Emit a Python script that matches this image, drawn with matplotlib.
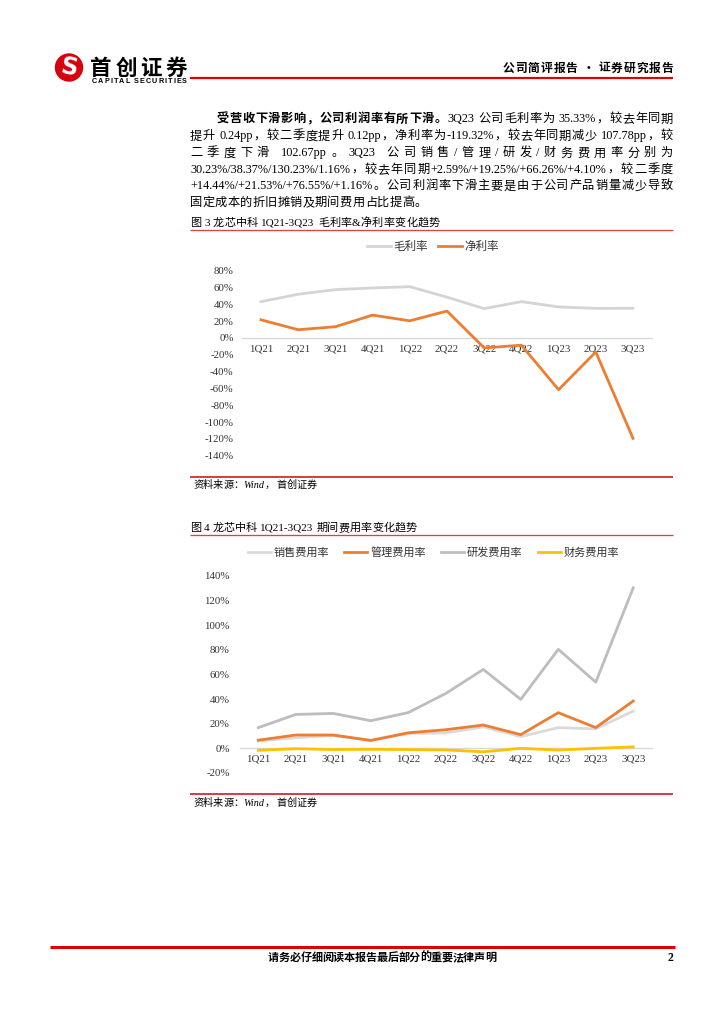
import matplotlib
matplotlib.use('Agg')
import matplotlib.pyplot as plt
from matplotlib.patches import Circle
from matplotlib.lines import Line2D
from matplotlib.ticker import FuncFormatter
from matplotlib.font_manager import FontProperties

plt.rcParams['axes.unicode_minus'] = False

# ---------------- data ----------------
quarters = ['1Q21', '2Q21', '3Q21', '4Q21', '1Q22', '2Q22', '3Q22', '4Q22', '1Q23', '2Q23', '3Q23']
gross_margin = [43.2, 52.0, 57.5, 59.5, 61.0, 48.5, 34.9, 43.2, 36.9, 35.21, 35.33]
net_margin = [21.6, 9.8, 13.4, 27.2, 20.4, 32.0, -11.8, -8.6, -61.5, -16.65, -119.32]
margin_yticks = list(range(-140, 81, 20))

sales_rate = [6.0, 8.6, 10.4, 6.4, 12.0, 12.5, 17.4, 9.5, 16.8, 15.79, 30.23]
admin_rate = [6.6, 10.8, 10.8, 6.4, 12.6, 15.1, 18.9, 11.1, 28.9, 16.84, 38.37]
rd_rate = [16.8, 27.5, 28.3, 22.4, 29.0, 44.5, 64.0, 39.7, 80.3, 53.68, 130.23]
fin_rate = [-1.6, -0.3, -1.0, -0.8, -1.0, -1.3, -2.8, 0.0, -1.4, 0.0, 1.16]
expense_yticks = list(range(-20, 141, 20))

# ---------------- page setup ----------------
W, H = 724, 1024
fig = plt.figure(figsize=(7.24, 10.24), dpi=100)
page = fig.add_axes([0, 0, 1, 1])
page.set_xlim(0, W)
page.set_ylim(H, 0)
page.axis('off')
renderer = fig.canvas.get_renderer()

SERIF_CJK = ['Liberation Serif', 'Noto Sans CJK SC']
CJK = ['Noto Sans CJK SC', 'DejaVu Sans']


def tokenize(s, split_all=False):
    toks, run = [], ''
    for ch in s:
        if ch == ' ':
            if run:
                toks.append(run)
                run = ''
            toks.append(' ')
        elif split_all or ord(ch) >= 0x2E80 or ch == '·':
            if run:
                toks.append(run)
                run = ''
            toks.append(ch)
        else:
            run += ch
    if run:
        toks.append(run)
    return toks


def justify(segments, x0, x1, yc, size, family, color='black', style='normal', split_all=False):
    em = size * 100 / 72.0
    yb = yc + 0.36 * em
    items = []
    for text, weight in segments:
        for t in tokenize(text, split_all):
            items.append((t, weight))
    texts, widths = [], []
    for t, w in items:
        if t == ' ':
            texts.append(None)
            widths.append(0.25 * em)
        else:
            tx = page.text(0, yb, t, fontsize=size, family=family, weight=w, style=style,
                           color=color, va='baseline', ha='left')
            widths.append(tx.get_window_extent(renderer).width)
            texts.append(tx)
    n = len(items)
    gap = 0
    if x1 is not None and n > 1:
        gap = (x1 - x0 - sum(widths)) / (n - 1)
    x = x0
    for tx, wd in zip(texts, widths):
        if tx is not None:
            tx.set_x(x)
        x += wd + gap


def hline(x0, x1, y, lw_px, color):
    page.add_line(Line2D([x0, x1], [y, y], lw=lw_px * 0.72, color=color, solid_capstyle='butt'))


# ---------------- header ----------------
page.add_patch(Circle((69, 67.5), 13.5, color='#D7000F'))
page.text(69, 68, 'S', fontsize=17, family='DejaVu Sans', weight='bold', color='white',
          ha='center', va='center', rotation=-10)
justify([('首创证券', 'bold')], 90, 187, 67, 15.5, CJK)
justify([('CAPITAL SECURITIES', 'bold')], 92, 187, 80.5, 5.2, ['Liberation Sans'], split_all=True)
hline(190, 673, 77.5, 2.2, '#E00000')
justify([('公司简评报告 · 证券研究报告', 'bold')], 503, 673, 67.5, 8.5, CJK)

# ---------------- body text ----------------
FS = 8.8
justify([('受营收下滑影响，公司利润率有所下滑。', 'bold'), ('3Q23 公司毛利率为 35.33%，较去年同期', 'normal')],
        216.7, 673, 118, FS, SERIF_CJK)
justify([('提升 0.24pp，较二季度提升 0.12pp，净利率为-119.32%，较去年同期减少 107.78pp，较', 'normal')],
        190, 673, 135, FS, SERIF_CJK)
justify([('二季度下滑 102.67pp。3Q23 公司销售/管理/研发/财务费用率分别为', 'normal')],
        190, 673, 152, FS, SERIF_CJK)
justify([('30.23%/38.37%/130.23%/1.16%，较去年同期+2.59%/+19.25%/+66.26%/+4.10%，较二季度', 'normal')],
        190, 673, 168.5, FS, SERIF_CJK)
justify([('+14.44%/+21.53%/+76.55%/+1.16%。公司利润率下滑主要是由于公司产品销量减少导致', 'normal')],
        190, 673, 185, FS, SERIF_CJK)
justify([('固定成本的折旧摊销及期间费用占比提高。', 'normal')],
        190, 427, 201.5, FS, SERIF_CJK)

# ---------------- figure 3 captions ----------------
justify([('图 3 龙芯中科 1Q21-3Q23 毛利率&净利率变化趋势', 'normal')], 190, 440, 221.7, 8, SERIF_CJK)
hline(190, 673, 230, 1.3, '#E04040')
hline(190, 673, 476.7, 1.5, '#D00000')
justify([('资料来源：Wind， 首创证券', 'normal')], 193, 317, 484.5, 7.3, SERIF_CJK, style='italic')

# ---------------- figure 4 captions ----------------
justify([('图 4 龙芯中科 1Q21-3Q23 期间费用率变化趋势', 'normal')], 190, 416.7, 527, 8, SERIF_CJK)
hline(190, 673, 535, 1.3, '#E04040')
hline(190, 673, 794.3, 1.5, '#D00000')
justify([('资料来源：Wind， 首创证券', 'normal')], 193, 317, 802, 7.3, SERIF_CJK, style='italic')

# ---------------- footer ----------------
hline(50, 675, 947, 3, '#E00000')
justify([('请务必仔细阅读本报告最后部分的重要法律声明', 'bold')], 268, 496, 957, 8, CJK)
page.text(670, 958, '2', fontsize=8.5, family='Liberation Serif', weight='bold', ha='center', va='center')


# ---------------- charts ----------------
def px_rect(l, t, r, b):
    return [l / W, 1 - b / H, (r - l) / W, (b - t) / H]


pct = FuncFormatter(lambda v, p: f'{int(round(v))}%')


def style_axes(ax, ylim, yticks, xpad, ypad):
    ax.set_facecolor('none')
    ax.set_xlim(-0.5, len(quarters) - 0.5)
    ax.set_ylim(*ylim)
    ax.set_yticks(yticks)
    ax.yaxis.set_major_formatter(pct)
    ax.set_xticks(range(len(quarters)))
    ax.set_xticklabels(quarters)
    for s in ['top', 'right', 'left']:
        ax.spines[s].set_visible(False)
    ax.spines['bottom'].set_position(('data', 0))
    ax.spines['bottom'].set_color('#D9D9D9')
    ax.spines['bottom'].set_linewidth(1.0)
    ax.spines['bottom'].set_zorder(0.5)
    ax.tick_params(axis='x', length=0, pad=xpad, labelsize=7.8, colors='#333333')
    ax.tick_params(axis='y', length=0, pad=ypad, labelsize=7.8, colors='#333333')
    for lab in ax.get_xticklabels() + ax.get_yticklabels():
        lab.set_fontfamily('Liberation Serif')


x = list(range(len(quarters)))

ax1 = fig.add_axes(px_rect(242.4, 270.7, 651.6, 455.7))
ax1.plot(x, gross_margin, color='#D4D4D4', lw=2.0, label='毛利率', solid_joinstyle='round')
ax1.plot(x, net_margin, color='#ED7D31', lw=2.0, label='净利率', solid_joinstyle='round')
style_axes(ax1, (-140, 80), margin_yticks, 5.0, 6.3)
ax1.legend(loc='center', bbox_to_anchor=(433 / W, 1 - 246.7 / H), bbox_transform=fig.transFigure,
           ncol=2, frameon=False, prop=FontProperties(family=CJK, size=8.3),
           handlelength=2.1, handletextpad=0.2, columnspacing=0.9, labelcolor='#333333')

ax2 = fig.add_axes(px_rect(239.6, 575.7, 652, 773))
ax2.plot(x, sales_rate, color='#DADADA', lw=2.0, label='销售费用率', solid_joinstyle='round')
ax2.plot(x, admin_rate, color='#ED7D31', lw=2.0, label='管理费用率', solid_joinstyle='round')
ax2.plot(x, rd_rate, color='#BDBDBD', lw=2.0, label='研发费用率', solid_joinstyle='round')
ax2.plot(x, fin_rate, color='#FFC000', lw=2.0, label='财务费用率', solid_joinstyle='round')
style_axes(ax2, (-20, 140), expense_yticks, 4.6, 7.0)
ax2.legend(loc='center', bbox_to_anchor=(433.4 / W, 1 - 552.7 / H), bbox_transform=fig.transFigure,
           ncol=4, frameon=False, prop=FontProperties(family=CJK, size=8),
           handlelength=2.07, handletextpad=0.27, columnspacing=1.35, labelcolor='#333333')

fig.savefig('out.png', dpi=100, facecolor='white')
